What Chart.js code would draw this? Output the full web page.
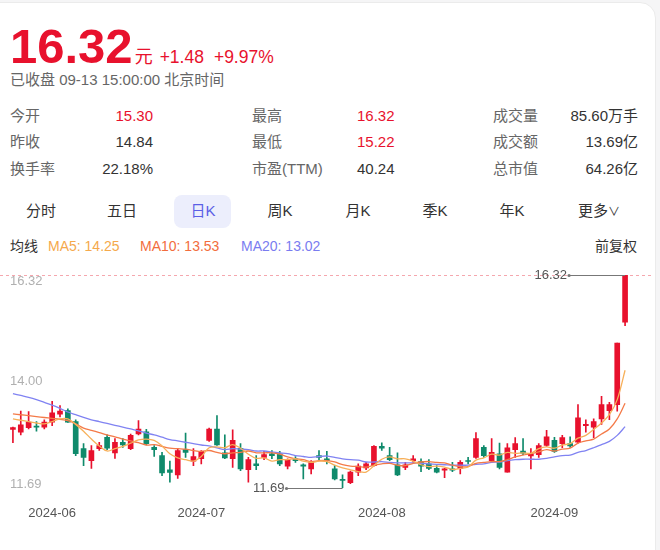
<!DOCTYPE html>
<html>
<head>
<meta charset="utf-8">
<script src="https://cdn.jsdelivr.net/npm/chart.js@4.4.1/dist/chart.umd.min.js"></script>
<style>
html, body { margin: 0; padding: 0; }
body {
    width: 660px; height: 550px; position: relative; overflow: hidden;
    background: #f5f5f6;
    font-family: "Liberation Sans", Arial, "Noto Sans CJK SC", sans-serif;
    color: #333;
}
.card { position: absolute; left: -20px; top: 2px; width: 674px; height: 600px; background: #fff; border: 1px solid #ebebeb; border-radius: 16px; }
.t { position: absolute; white-space: nowrap; line-height: 20px; font-size: 15px; }
.lab { color: #666; }
.red { color: #e8112d; }
.r { text-align: right; }
.tab { position: absolute; width: 80px; text-align: center; top: 201px; line-height: 20px; font-size: 15px; color: #333; }
.ma { position: absolute; top: 237px; line-height: 18px; font-size: 14px; white-space: nowrap; }
#wrap { position: absolute; left: 0; top: 260px; width: 660px; height: 270px; }
</style>
</head>
<body>
<div class="card"></div>

<div style="position:absolute;left:10px;top:22px;line-height:48px;display:flex;align-items:baseline;color:#e8112d;white-space:nowrap">
    <span style="font-size:49px;font-weight:bold">16.32</span>
    <span style="font-size:18px;margin-left:2px">元</span>
    <span style="font-size:17.5px;margin-left:7px">+1.48</span>
    <span style="font-size:17.5px;margin-left:10px">+9.97%</span>
</div>
<div class="t lab" style="left:10px;top:70px">已收盘 09-13 15:00:00 北京时间</div>

<div class="t lab" style="left:10px;top:106px">今开</div>
<div class="t red r" style="left:60px;width:93px;top:106px">15.30</div>
<div class="t lab" style="left:252px;top:106px">最高</div>
<div class="t red" style="left:357px;top:106px">16.32</div>
<div class="t lab" style="left:493px;top:106px">成交量</div>
<div class="t r" style="left:520px;width:118px;top:106px">85.60万手</div>

<div class="t lab" style="left:10px;top:132px">昨收</div>
<div class="t r" style="left:60px;width:93px;top:132px">14.84</div>
<div class="t lab" style="left:252px;top:132px">最低</div>
<div class="t red" style="left:357px;top:132px">15.22</div>
<div class="t lab" style="left:493px;top:132px">成交额</div>
<div class="t r" style="left:520px;width:118px;top:132px">13.69亿</div>

<div class="t lab" style="left:10px;top:159px">换手率</div>
<div class="t r" style="left:60px;width:93px;top:159px">22.18%</div>
<div class="t lab" style="left:252px;top:159px">市盈(TTM)</div>
<div class="t" style="left:357px;top:159px">40.24</div>
<div class="t lab" style="left:493px;top:159px">总市值</div>
<div class="t r" style="left:520px;width:118px;top:159px">64.26亿</div>

<div style="position:absolute;left:174px;top:195px;width:57px;height:33px;border-radius:8px;background:#eceefc"></div>
<div class="tab" style="left:1px">分时</div>
<div class="tab" style="left:82px">五日</div>
<div class="tab" style="left:163px;color:#5b5fe6">日K</div>
<div class="tab" style="left:240px">周K</div>
<div class="tab" style="left:318px">月K</div>
<div class="tab" style="left:395px">季K</div>
<div class="tab" style="left:472px">年K</div>
<div class="tab" style="left:559px">更多<span style="font-size:12px">∨</span></div>

<div class="ma" style="left:10px;color:#333">均线</div>
<div class="ma" style="left:48px;color:#f5a94c">MA5: 14.25</div>
<div class="ma" style="left:140px;color:#f26d3d">MA10: 13.53</div>
<div class="ma" style="left:241px;color:#7a7cf0">MA20: 13.02</div>
<div class="ma" style="left:595px;color:#333">前复权</div>

<div id="wrap"><canvas id="kChart"></canvas></div>

<script>
// trading days shown
const dates = [
    '2024-05-27','2024-05-28','2024-05-29','2024-05-30','2024-05-31',
    '2024-06-03','2024-06-04','2024-06-05','2024-06-06','2024-06-07',
    '2024-06-11','2024-06-12','2024-06-13','2024-06-14',
    '2024-06-17','2024-06-18','2024-06-19','2024-06-20','2024-06-21',
    '2024-06-24','2024-06-25','2024-06-26','2024-06-27','2024-06-28',
    '2024-07-01','2024-07-02','2024-07-03','2024-07-04','2024-07-05',
    '2024-07-08','2024-07-09','2024-07-10','2024-07-11','2024-07-12',
    '2024-07-15','2024-07-16','2024-07-17','2024-07-18','2024-07-19',
    '2024-07-22','2024-07-23','2024-07-24','2024-07-25','2024-07-26',
    '2024-07-29','2024-07-30','2024-07-31',
    '2024-08-01','2024-08-02',
    '2024-08-05','2024-08-06','2024-08-07','2024-08-08','2024-08-09',
    '2024-08-12','2024-08-13','2024-08-14','2024-08-15','2024-08-16',
    '2024-08-19','2024-08-20','2024-08-21','2024-08-22','2024-08-23',
    '2024-08-26','2024-08-27','2024-08-28','2024-08-29','2024-08-30',
    '2024-09-02','2024-09-03','2024-09-04','2024-09-05','2024-09-06',
    '2024-09-09','2024-09-10','2024-09-11','2024-09-12','2024-09-13'
];

const opens = [
    12.96, 12.90, 13.00, 13.03, 13.01, 13.12, 13.29, 13.37, 13.13, 12.54,
    12.28, 12.54, 12.79, 12.45, 12.68, 12.54, 12.86, 12.91, 12.57, 12.39,
    12.08, 11.97, 12.52, 12.27, 12.32, 12.72, 12.97, 12.45, 12.32, 12.55,
    12.08, 12.21, 12.35, 12.43, 12.43, 12.16, 12.32, 12.19, 12.10, 12.39,
    12.32, 12.10, 11.87, 11.80, 12.03, 12.12, 12.17, 12.59, 12.39, 12.19,
    12.13, 12.28, 12.26, 12.21, 12.11, 12.07, 12.10, 12.11, 12.28, 12.35,
    12.57, 12.28, 12.43, 12.03, 12.52, 12.49, 12.38, 12.41, 12.61, 12.72,
    12.65, 12.65, 12.68, 13.04, 13.01, 13.19, 13.37, 13.50, 15.30
];
const highs = [
    13.01, 13.36, 13.35, 13.13, 13.17, 13.57, 13.48, 13.41, 13.17, 12.65,
    12.61, 12.68, 12.84, 12.76, 12.76, 12.86, 13.15, 12.96, 12.61, 12.46,
    12.27, 12.54, 12.88, 12.54, 12.50, 12.99, 13.26, 12.84, 12.95, 12.65,
    12.35, 12.39, 12.48, 12.50, 12.48, 12.32, 12.37, 12.21, 12.28, 12.50,
    12.48, 12.17, 11.97, 12.05, 12.21, 12.24, 12.61, 12.67, 12.57, 12.45,
    12.24, 12.39, 12.32, 12.30, 12.17, 12.11, 12.24, 12.28, 12.35, 12.89,
    12.61, 12.76, 12.66, 12.65, 12.78, 12.76, 12.54, 12.65, 12.94, 12.79,
    12.83, 12.80, 13.50, 13.17, 13.19, 13.68, 13.55, 14.84, 16.32
];
const lows = [
    12.67, 12.84, 12.97, 12.92, 12.97, 13.04, 13.23, 13.11, 12.39, 12.17,
    12.11, 12.50, 12.52, 12.33, 12.57, 12.52, 12.84, 12.62, 12.37, 11.95,
    11.81, 11.89, 12.35, 12.17, 12.21, 12.70, 12.61, 12.32, 12.13, 12.06,
    11.81, 12.08, 12.30, 12.32, 12.17, 12.10, 12.24, 11.88, 11.99, 12.30,
    12.21, 11.86, 11.69, 11.78, 11.95, 12.08, 12.16, 12.50, 12.28, 11.95,
    12.08, 12.24, 12.04, 12.08, 12.01, 11.91, 12.04, 11.99, 12.21, 12.33,
    12.35, 12.26, 12.10, 12.03, 12.35, 12.41, 12.10, 12.35, 12.59, 12.46,
    12.56, 12.57, 12.66, 12.90, 12.78, 13.07, 13.17, 13.36, 15.22
];
const closes = [
    13.00, 13.06, 13.12, 13.01, 13.12, 13.32, 13.36, 13.12, 12.43, 12.35,
    12.50, 12.61, 12.55, 12.68, 12.62, 12.83, 12.97, 12.65, 12.52, 12.01,
    12.02, 12.50, 12.46, 12.37, 12.48, 12.97, 12.62, 12.34, 12.72, 12.10,
    12.30, 12.17, 12.41, 12.39, 12.21, 12.30, 12.28, 12.16, 12.24, 12.35,
    12.28, 11.88, 11.85, 12.03, 12.16, 12.21, 12.59, 12.55, 12.30, 11.97,
    12.19, 12.32, 12.16, 12.11, 12.03, 12.10, 12.07, 12.24, 12.26, 12.76,
    12.39, 12.46, 12.13, 12.56, 12.65, 12.44, 12.42, 12.61, 12.80, 12.48,
    12.78, 12.60, 13.21, 13.07, 13.13, 13.50, 13.50, 14.84, 16.32
];

// moving averages as drawn
const ma5 = [
    13.19, 13.16, 13.13, 13.10, 13.08, 13.13, 13.19, 13.19, 13.07, 12.92,
    12.75, 12.60, 12.49, 12.54, 12.59, 12.66, 12.73, 12.75, 12.72, 12.60,
    12.43, 12.34, 12.30, 12.27, 12.37, 12.56, 12.58, 12.56, 12.63, 12.55,
    12.42, 12.33, 12.34, 12.27, 12.30, 12.30, 12.32, 12.27, 12.24, 12.27,
    12.26, 12.18, 12.12, 12.08, 12.04, 12.03, 12.17, 12.31, 12.36, 12.32,
    12.32, 12.27, 12.19, 12.15, 12.16, 12.14, 12.09, 12.11, 12.14, 12.29,
    12.34, 12.42, 12.40, 12.46, 12.44, 12.45, 12.44, 12.54, 12.58, 12.55,
    12.62, 12.65, 12.77, 12.83, 12.96, 13.10, 13.28, 13.61, 14.25
];
const ma10 = [
    13.30, 13.28, 13.26, 13.24, 13.22, 13.20, 13.18, 13.15, 13.08, 12.99,
    12.94, 12.89, 12.84, 12.80, 12.75, 12.71, 12.67, 12.62, 12.63, 12.59,
    12.55, 12.54, 12.53, 12.50, 12.48, 12.50, 12.46, 12.43, 12.45, 12.46,
    12.49, 12.45, 12.45, 12.45, 12.42, 12.36, 12.32, 12.30, 12.26, 12.28,
    12.28, 12.25, 12.19, 12.16, 12.15, 12.14, 12.18, 12.21, 12.22, 12.18,
    12.17, 12.22, 12.25, 12.26, 12.24, 12.23, 12.18, 12.15, 12.15, 12.22,
    12.24, 12.26, 12.26, 12.30, 12.36, 12.40, 12.43, 12.47, 12.52, 12.49,
    12.53, 12.55, 12.66, 12.71, 12.75, 12.86, 12.97, 13.19, 13.53
];
const ma20 = [
    13.74, 13.70, 13.66, 13.61, 13.55, 13.49, 13.42, 13.34, 13.28, 13.22,
    13.17, 13.13, 13.09, 13.05, 13.01, 12.97, 12.93, 12.88, 12.84, 12.79,
    12.74, 12.71, 12.68, 12.65, 12.62, 12.60, 12.56, 12.52, 12.54, 12.53,
    12.52, 12.49, 12.49, 12.47, 12.45, 12.43, 12.39, 12.37, 12.35, 12.37,
    12.38, 12.35, 12.32, 12.30, 12.29, 12.25, 12.25, 12.26, 12.24, 12.23,
    12.23, 12.23, 12.22, 12.21, 12.20, 12.19, 12.18, 12.18, 12.18, 12.20,
    12.21, 12.24, 12.25, 12.28, 12.30, 12.31, 12.31, 12.31, 12.33, 12.36,
    12.39, 12.40, 12.46, 12.50, 12.56, 12.63, 12.70, 12.83, 13.02
];

const yTicks = [11.69, 14.00, 16.32];

const upColor = '#e8112d';
const downColor = '#0f8a6b';
const fontFamily = '"Liberation Sans", Arial, sans-serif';

const candleColors = closes.map((c, i) => c >= opens[i] ? upColor : downColor);
const maxHigh = Math.max(...highs);
const minLow = Math.min(...lows);
const highIdx = highs.indexOf(maxHigh);
const lowIdx = lows.indexOf(minLow);

function monthStart(i) {
    return i > 0 && dates[i].slice(5, 7) !== dates[i - 1].slice(5, 7);
}

const overlay = {
    id: 'overlay',
    beforeDatasetsDraw(chart) {
        const { ctx, chartArea, scales: { y } } = chart;
        const py = Math.round(y.getPixelForValue(maxHigh)) + 0.5;
        ctx.save();
        ctx.strokeStyle = '#f5a7ae';
        ctx.lineWidth = 1;
        ctx.setLineDash([3, 3]);
        ctx.beginPath();
        ctx.moveTo(0, py);
        ctx.lineTo(chartArea.right + 22, py);
        ctx.stroke();
        ctx.restore();
    },
    afterDatasetsDraw(chart) {
        const { ctx, scales: { x, y } } = chart;
        ctx.save();
        ctx.font = '13px ' + fontFamily;
        ctx.fillStyle = '#b0b0b0';
        ctx.textAlign = 'left';
        yTicks.forEach((v, k) => {
            ctx.textBaseline = k === 0 ? 'alphabetic' : (k === yTicks.length - 1 ? 'top' : 'middle');
            ctx.fillText(v.toFixed(2), 10, y.getPixelForValue(v));
        });

        const mark = (i, v) => {
            const px = x.getPixelForValue(i);
            const py = Math.round(y.getPixelForValue(v)) + 0.5;
            const x0 = px - 56;
            ctx.strokeStyle = '#777';
            ctx.fillStyle = '#777';
            ctx.lineWidth = 1;
            ctx.beginPath();
            ctx.moveTo(x0, py);
            ctx.lineTo(px, py);
            ctx.stroke();
            ctx.beginPath();
            ctx.arc(x0, py, 1.6, 0, Math.PI * 2);
            ctx.fill();
            ctx.fillStyle = '#555';
            ctx.textAlign = 'right';
            ctx.textBaseline = 'middle';
            ctx.fillText(v.toFixed(2), x0 - 2, py);
        };
        mark(highIdx, maxHigh);
        mark(lowIdx, minLow);
        ctx.restore();
    }
};

const lineSet = (data, color) => ({
    type: 'line',
    data: data,
    borderColor: color,
    borderWidth: 1.3,
    pointRadius: 0,
    tension: 0.35,
    fill: false,
    order: 0
});

new Chart(document.getElementById('kChart'), {
    data: {
        labels: dates,
        datasets: [
            lineSet(ma5, '#f7b05a'),
            lineSet(ma10, '#f47a48'),
            lineSet(ma20, '#8083f2'),
            {
                type: 'bar',
                data: opens.map((o, i) => [o, closes[i]]),
                backgroundColor: candleColors,
                barThickness: 5,
                minBarLength: 1,
                grouped: false,
                order: 1
            },
            {
                type: 'bar',
                data: lows.map((l, i) => [l, highs[i]]),
                backgroundColor: candleColors,
                barThickness: 1,
                grouped: false,
                order: 2
            }
        ]
    },
    options: {
        responsive: true,
        maintainAspectRatio: false,
        animation: false,
        layout: { padding: { left: 9, right: 31, top: 7, bottom: 0 } },
        plugins: {
            legend: { display: false },
            tooltip: { enabled: false }
        },
        scales: {
            x: {
                type: 'category',
                offset: true,
                grid: { display: false, drawTicks: false },
                border: { display: false },
                ticks: {
                    autoSkip: false,
                    maxRotation: 0,
                    padding: 9,
                    color: '#555',
                    font: { size: 13, family: fontFamily },
                    callback: (value, index) => monthStart(index) ? dates[index].slice(0, 7) : ''
                }
            },
            y: {
                display: false,
                min: 11.5,
                max: 16.5
            }
        }
    },
    plugins: [overlay]
});
</script>
</body>
</html>
